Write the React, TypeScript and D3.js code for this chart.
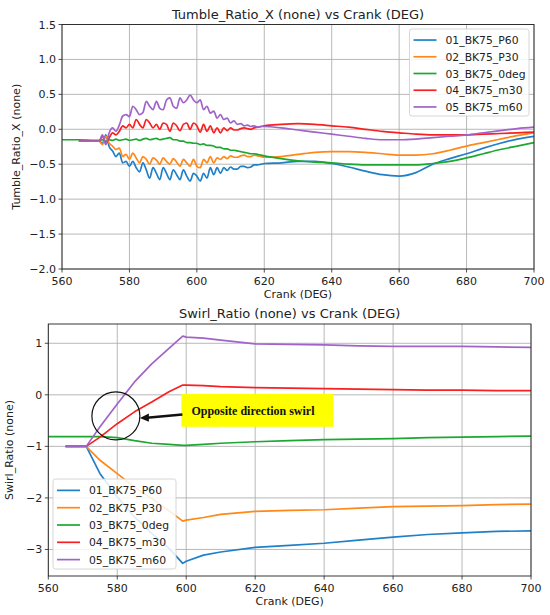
import React from 'react';
import * as d3 from 'd3';

const seriesNames = ['01_BK75_P60', '02_BK75_P30', '03_BK75_0deg', '04_BK75_m30', '05_BK75_m60'];
const seriesColors = ['#1f80c8', '#ff8818', '#1ca830', '#f82020', '#a064c8'];

const tumbleCrank = [
    560, 565, 570, 571, 572, 573, 574, 575, 576, 577, 578, 579, 580, 581, 582, 583, 584, 585, 586, 587, 588, 589,
    590, 591, 592, 593, 594, 595, 596, 597, 598, 599, 600, 601, 602, 603, 604, 605, 606, 607, 608, 609, 610, 611,
    612, 613, 614, 615, 616, 617, 618, 619, 620, 625, 630, 635, 640, 645, 650, 655, 660, 665, 670, 675, 680, 685,
    690, 695, 700,
];

const tumbleP60 = [
    null, -0.17, -0.17, -0.17, -0.2, -0.08, -0.25, -0.31, -0.39, -0.34, -0.48, -0.46, -0.53, -0.46, -0.55, -0.61,
    -0.48, -0.58, -0.7, -0.55, -0.63, -0.72, -0.55, -0.63, -0.72, -0.58, -0.65, -0.72, -0.58, -0.67, -0.74, -0.63,
    -0.67, -0.74, -0.63, -0.7, -0.55, -0.65, -0.55, -0.63, -0.55, -0.59, -0.54, -0.57, -0.57, -0.53, -0.53, -0.55,
    -0.54, -0.51, -0.51, -0.5, -0.49, -0.48, -0.46, -0.46, -0.49, -0.54, -0.6, -0.65, -0.67, -0.62, -0.5, -0.42,
    -0.35, -0.27, -0.2, -0.14, -0.1,
];
const tumbleP30 = [
    null, -0.17, -0.17, -0.17, -0.22, -0.1, -0.2, -0.24, -0.29, -0.27, -0.39, -0.36, -0.43, -0.34, -0.41, -0.48,
    -0.39, -0.43, -0.5, -0.41, -0.44, -0.5, -0.41, -0.46, -0.5, -0.42, -0.47, -0.53, -0.43, -0.48, -0.53, -0.43,
    -0.53, -0.55, -0.43, -0.48, -0.39, -0.48, -0.41, -0.43, -0.39, -0.42, -0.38, -0.4, -0.4, -0.38, -0.37, -0.39,
    -0.39, -0.37, -0.38, -0.39, -0.4, -0.39, -0.36, -0.33, -0.32, -0.32, -0.33, -0.35, -0.37, -0.37, -0.35, -0.3,
    -0.24, -0.19, -0.14, -0.09, -0.05,
];
const tumble0deg = [
    -0.15, -0.15, -0.16, -0.16, -0.15, -0.17, -0.15, -0.16, -0.14, -0.16, -0.15, -0.14, -0.16, -0.15, -0.14, -0.16,
    -0.14, -0.13, -0.15, -0.14, -0.13, -0.15, -0.14, -0.13, -0.12, -0.15, -0.15, -0.17, -0.17, -0.19, -0.19, -0.2,
    -0.2, -0.22, -0.21, -0.23, -0.23, -0.24, -0.26, -0.26, -0.28, -0.28, -0.3, -0.3, -0.31, -0.32, -0.33, -0.34,
    -0.35, -0.35, -0.36, -0.37, -0.38, -0.42, -0.45, -0.47, -0.48, -0.5, -0.51, -0.51, -0.51, -0.51, -0.49, -0.46,
    -0.41, -0.35, -0.29, -0.24, -0.19,
];
const tumbleM30 = [
    null, -0.17, -0.17, -0.17, -0.1, -0.2, -0.12, -0.05, -0.08, -0.03, 0.05, 0.02, 0.07, 0.02, 0.14, 0.07, 0.02,
    0.14, 0.09, 0.02, 0.07, 0.0, 0.09, 0.07, -0.03, 0.09, 0.05, -0.02, 0.07, 0.09, 0.0, 0.09, 0.05, -0.04, 0.07,
    -0.03, 0.05, -0.05, 0.02, -0.05, 0.02, -0.02, 0.02, -0.01, -0.01, 0.01, 0.02, 0.01, 0.0, 0.02, 0.03, 0.04, 0.05,
    0.07, 0.08, 0.07, 0.05, 0.03, 0.0, -0.03, -0.05, -0.07, -0.08, -0.08, -0.08, -0.07, -0.06, -0.05, -0.04,
];
const tumbleM60 = [
    null, -0.17, -0.17, -0.17, -0.08, -0.22, -0.05, 0.02, -0.03, 0.06, 0.19, 0.21, 0.18, 0.33, 0.28, 0.21, 0.24,
    0.4, 0.33, 0.28, 0.4, 0.3, 0.28, 0.42, 0.45, 0.33, 0.3, 0.45, 0.38, 0.42, 0.49, 0.42, 0.38, 0.42, 0.28, 0.33,
    0.23, 0.26, 0.16, 0.21, 0.14, 0.16, 0.09, 0.12, 0.07, 0.08, 0.05, 0.06, 0.04, 0.05, 0.03, 0.04, 0.04, 0.02,
    -0.01, -0.04, -0.07, -0.1, -0.13, -0.15, -0.15, -0.14, -0.12, -0.1, -0.08, -0.05, -0.02, 0.01, 0.03,
];

const swirlCrank = [560, 565, 570, 571, 575, 580, 585, 590, 595, 599, 600, 605, 610, 620, 630, 640, 650, 660, 670, 680, 690, 700];

const swirlP60 = [null, -1.0, -1.0, -1.0, -1.53, -1.98, -2.37, -2.69, -2.98, -3.27, -3.23, -3.11, -3.05, -2.96, -2.92, -2.88, -2.82, -2.76, -2.71, -2.68, -2.65, -2.64];
const swirlP30 = [null, -1.0, -1.0, -1.0, -1.27, -1.53, -1.79, -2.01, -2.25, -2.45, -2.43, -2.38, -2.32, -2.26, -2.24, -2.23, -2.2, -2.17, -2.16, -2.15, -2.13, -2.12];
const swirl0deg = [-0.81, -0.81, -0.81, -0.81, -0.81, -0.83, -0.89, -0.94, -0.96, -0.98, -0.98, -0.96, -0.94, -0.91, -0.89, -0.87, -0.86, -0.85, -0.83, -0.82, -0.81, -0.8];
const swirlM30 = [null, -1.0, -1.0, -1.0, -0.82, -0.56, -0.33, -0.14, 0.06, 0.19, 0.19, 0.18, 0.16, 0.14, 0.13, 0.12, 0.11, 0.1, 0.09, 0.09, 0.08, 0.08];
const swirlM60 = [null, -1.0, -1.0, -1.0, -0.62, -0.18, 0.25, 0.6, 0.9, 1.14, 1.12, 1.1, 1.06, 0.99, 0.98, 0.97, 0.95, 0.94, 0.94, 0.94, 0.93, 0.92];

const xTicks = [560, 580, 600, 620, 640, 660, 680, 700];
const tumbleYTicks = [1.5, 1.0, 0.5, 0.0, -0.5, -1.0, -1.5, -2.0];
const swirlYTicks = [1, 0, -1, -2, -3];

const font = 'DejaVu Sans, sans-serif';
const minus = (s: string) => s.replace('-', '\u2212');

type Pt = [number, number | null];

interface PanelProps {
    left: number; right: number; top: number; bottom: number;
    yDomain: [number, number];
    yTicks: number[];
    yFmt: (v: number) => string;
    crank: number[];
    series: (number | null)[][];
    title: string;
    yLabel: string;
    yLabelX: number;
    titleY: number;
    legend: { x: number; y: number; w: number; h: number };
    curve: d3.CurveFactory;
    children?: (x: d3.ScaleLinear<number, number>, y: d3.ScaleLinear<number, number>) => React.ReactNode;
}

const Panel: React.FC<PanelProps> = p => {
    const x = d3.scaleLinear().domain([560, 700]).range([p.left, p.right]);
    const y = d3.scaleLinear().domain(p.yDomain).range([p.bottom, p.top]);
    const line = d3
        .line<Pt>()
        .defined(d => d[1] !== null)
        .x(d => x(d[0]))
        .y(d => y(d[1] as number))
        .curve(p.curve);
    const clipId = `clip-${p.top}`;
    const rowH = p.legend.h / 5.2;

    return (
        <g>
            <defs>
                <clipPath id={clipId}>
                    <rect x={p.left} y={p.top} width={p.right - p.left} height={p.bottom - p.top} />
                </clipPath>
            </defs>
            {xTicks.map(t => (
                <line key={'gx' + t} x1={x(t)} x2={x(t)} y1={p.top} y2={p.bottom} stroke="#b0b0b0" strokeWidth={0.9} />
            ))}
            {p.yTicks.map(t => (
                <line key={'gy' + t} x1={p.left} x2={p.right} y1={y(t)} y2={y(t)} stroke="#b0b0b0" strokeWidth={0.9} />
            ))}
            <g clipPath={`url(#${clipId})`}>
                {p.series.map((vals, i) => (
                    <path
                        key={seriesNames[i]}
                        d={line(p.crank.map((c, j) => [c, vals[j]] as Pt)) || ''}
                        fill="none"
                        stroke={seriesColors[i]}
                        strokeWidth={1.7}
                        strokeLinejoin="round"
                    />
                ))}
            </g>
            <rect x={p.left} y={p.top} width={p.right - p.left} height={p.bottom - p.top} fill="none" stroke="#222" strokeWidth={0.9} />
            {xTicks.map(t => (
                <g key={'tx' + t}>
                    <line x1={x(t)} x2={x(t)} y1={p.bottom} y2={p.bottom + 3.5} stroke="#222" strokeWidth={0.8} />
                    <text x={x(t)} y={p.bottom + 15.5} textAnchor="middle" fontSize={11} fontFamily={font} fill="#222">
                        {t}
                    </text>
                </g>
            ))}
            {p.yTicks.map(t => (
                <g key={'ty' + t}>
                    <line x1={p.left - 3.5} x2={p.left} y1={y(t)} y2={y(t)} stroke="#222" strokeWidth={0.8} />
                    <text x={p.left - 6} y={y(t) + 4} textAnchor="end" fontSize={11} fontFamily={font} fill="#222">
                        {minus(p.yFmt(t))}
                    </text>
                </g>
            ))}
            <text x={(p.left + p.right) / 2} y={p.titleY} textAnchor="middle" fontSize={13} fontFamily={font} fill="#222">
                {p.title}
            </text>
            <text x={(p.left + p.right) / 2} y={p.bottom + 29} textAnchor="middle" fontSize={11} fontFamily={font} fill="#222">
                Crank (DEG)
            </text>
            <text
                transform={`translate(${p.yLabelX},${(p.top + p.bottom) / 2}) rotate(-90)`}
                textAnchor="middle"
                fontSize={11}
                fontFamily={font}
                fill="#222"
            >
                {p.yLabel}
            </text>
            {p.children && p.children(x, y)}
            <g>
                <rect x={p.legend.x} y={p.legend.y} width={p.legend.w} height={p.legend.h} rx={2.5} fill="white" fillOpacity={0.85} stroke="#cccccc" strokeWidth={0.8} />
                {seriesNames.map((n, i) => {
                    const cy = p.legend.y + rowH * 0.6 + rowH * i + 1;
                    return (
                        <g key={'lg' + n}>
                            <line x1={p.legend.x + 4} x2={p.legend.x + 27} y1={cy} y2={cy} stroke={seriesColors[i]} strokeWidth={1.7} />
                            <text x={p.legend.x + 36} y={cy + 4} fontSize={10.8} fontFamily={font} fill="#222">
                                {n}
                            </text>
                        </g>
                    );
                })}
            </g>
        </g>
    );
};

const App: React.FC = () => {
    return (
        <svg width={550} height={615} style={{ display: 'block', position: 'absolute', left: 0, top: 0 }}>
            <rect width={550} height={615} fill="white" />
            <Panel
                left={62} right={534} top={24.5} bottom={269}
                yDomain={[-2, 1.5]}
                yTicks={tumbleYTicks}
                yFmt={v => v.toFixed(1)}
                crank={tumbleCrank}
                series={[tumbleP60, tumbleP30, tumble0deg, tumbleM30, tumbleM60]}
                title="Tumble_Ratio_X (none) vs Crank (DEG)"
                yLabel="Tumble_Ratio_X (none)"
                yLabelX={20}
                titleY={18.5}
                legend={{ x: 409.5, y: 29, w: 119.5, h: 87 }}
                curve={d3.curveMonotoneX}
            />
            <Panel
                left={48.3} right={531} top={324} bottom={576}
                yDomain={[-3.515, 1.374]}
                yTicks={swirlYTicks}
                yFmt={v => String(v)}
                crank={swirlCrank}
                series={[swirlP60, swirlP30, swirl0deg, swirlM30, swirlM60]}
                title="Swirl_Ratio (none) vs Crank (DEG)"
                yLabel="Swirl_Ratio (none)"
                yLabelX={13}
                titleY={317.5}
                legend={{ x: 53, y: 479, w: 123, h: 90 }}
                curve={d3.curveLinear}
            >
                {(x, y) => {
                    const cx = x(579.6);
                    const cy = y(-0.41);
                    const bx0 = x(598.6);
                    const bx1 = x(642.7);
                    const by0 = y(0.02);
                    const by1 = y(-0.62);
                    const tipX = cx + 24;
                    const tipY = cy + 2;
                    return (
                        <g>
                            <circle cx={cx} cy={cy} r={24} fill="none" stroke="#111" strokeWidth={1.2} />
                            <rect x={bx0} y={by0} width={bx1 - bx0} height={by1 - by0} fill="#ffff00" />
                            <text x={bx0 + 10} y={(by0 + by1) / 2 + 5} fontSize={12} fontWeight="bold" fontFamily="Liberation Serif, serif" fill="#111">
                                Opposite direction swirl
                            </text>
                            <line x1={bx0 + 1} y1={cy - 1.5} x2={tipX + 7} y2={tipY - 0.3} stroke="#111" strokeWidth={2.5} />
                            <path d={`M${tipX},${tipY} L${tipX + 9},${tipY - 4.5} L${tipX + 9},${tipY + 3.8} Z`} fill="#111" />
                        </g>
                    );
                }}
            </Panel>
        </svg>
    );
};

export default App;
